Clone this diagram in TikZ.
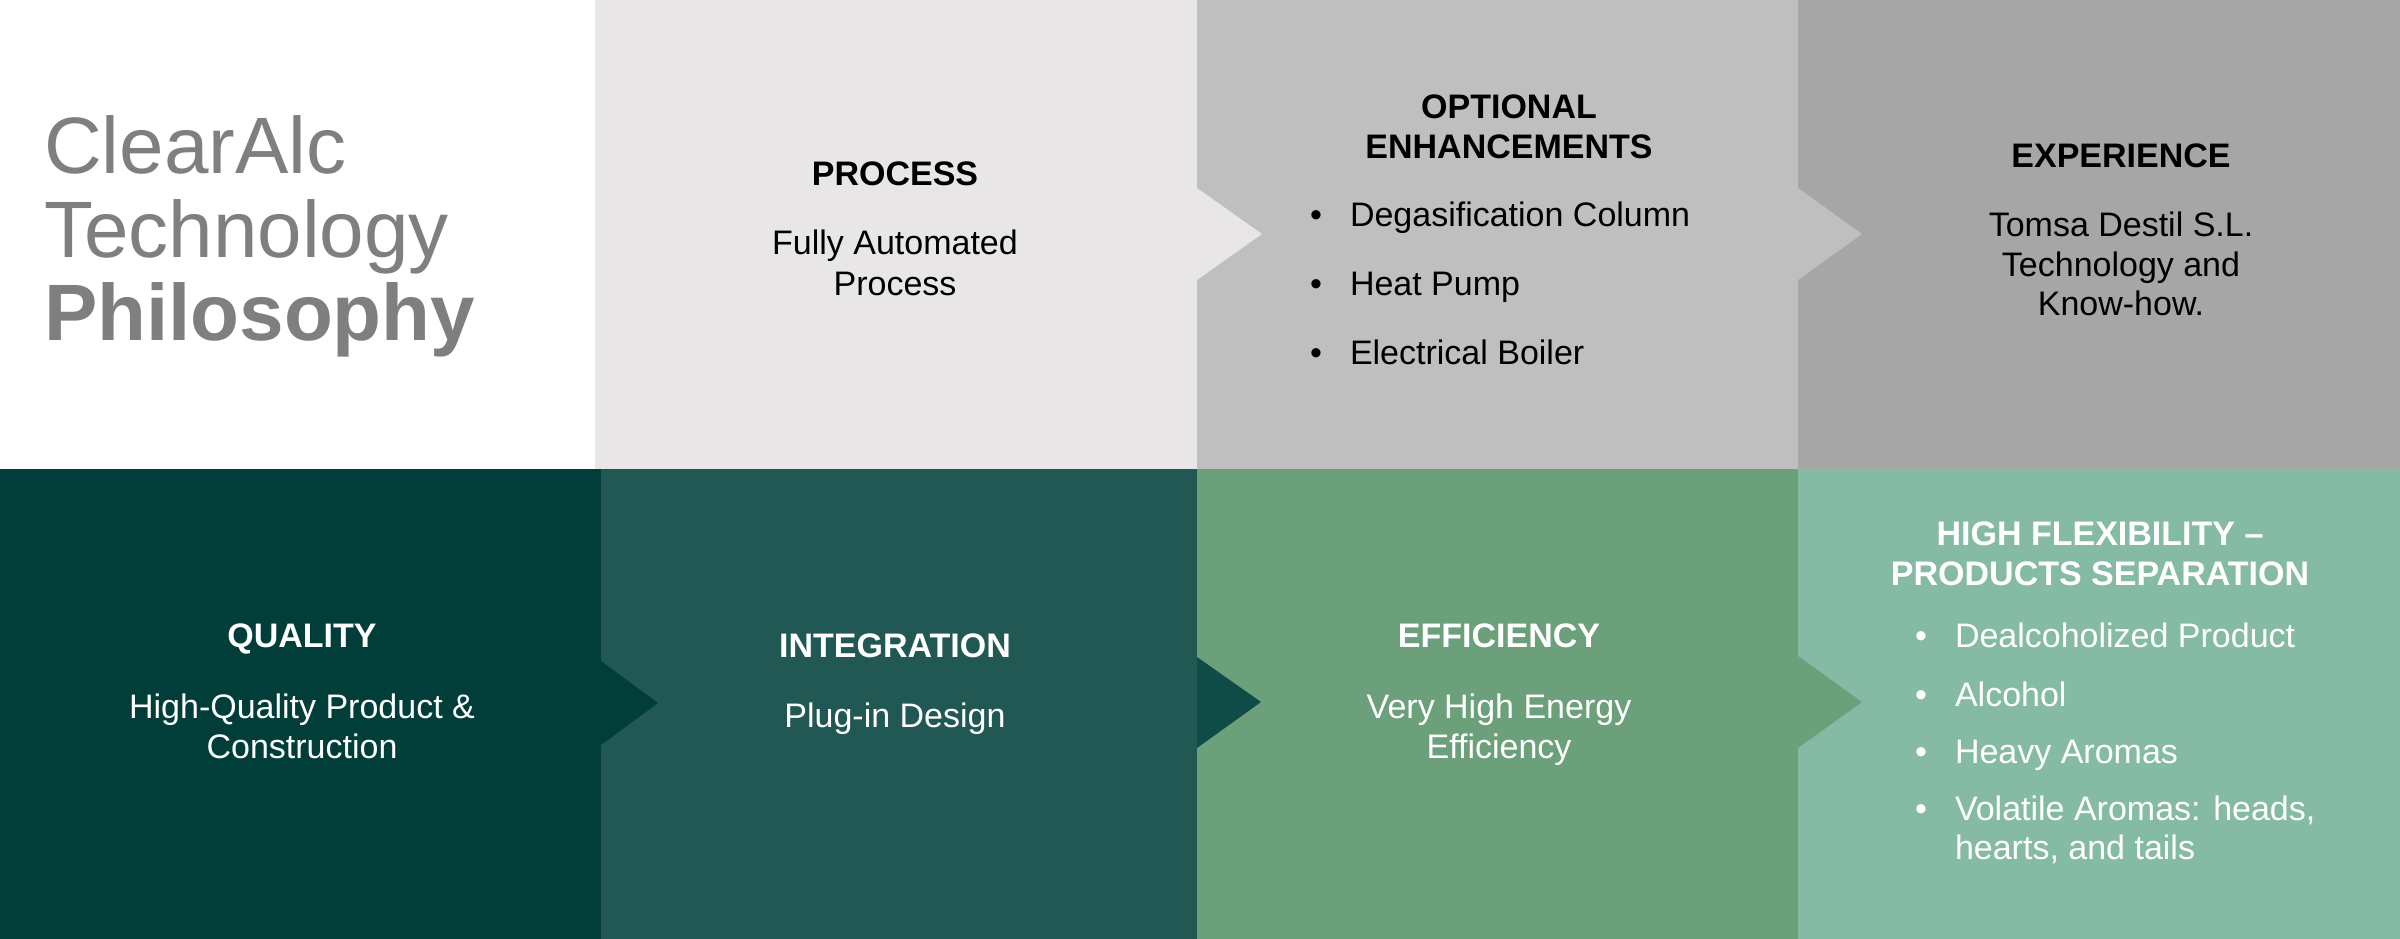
\documentclass[tikz,border=0pt]{standalone}
\usepackage{fontspec}
\setmainfont{Liberation Sans}
\definecolor{cLight}{HTML}{E8E6E7}
\definecolor{cMid}{HTML}{BFBFBF}
\definecolor{cDark}{HTML}{A6A6A6}
\definecolor{cTitle}{HTML}{7F7F7F}
\definecolor{cQual}{HTML}{013E3A}
\definecolor{cInteg}{HTML}{225853}
\definecolor{cIntArrow}{HTML}{0F4B47}
\definecolor{cEff}{HTML}{6CA07B}
\definecolor{cFlex}{HTML}{85BBA5}
\begin{document}
\begin{tikzpicture}[x=1pt,y=-1pt,
  txt/.style={inner sep=0pt, outer sep=0pt, anchor=base, font=\fontsize{34}{40}\selectfont},
  head/.style={txt, font=\fontsize{34}{40}\selectfont\bfseries},
  item/.style={txt, anchor=base west},
  title/.style={inner sep=0pt, outer sep=0pt, anchor=base west, text=cTitle, font=\fontsize{80}{84}\selectfont}]
\useasboundingbox (0,0) rectangle (2400,939);
% top row
\fill[white] (0,0) rectangle (595,469);
\fill[cLight] (595,0) rectangle (1197,469);
\fill[cMid] (1197,0) rectangle (1798,469);
\fill[cDark] (1798,0) rectangle (2400,469);
\fill[cLight] (1197,188) -- (1262,234) -- (1197,280) -- cycle;
\fill[cMid] (1798,188) -- (1862,234) -- (1798,280) -- cycle;
% bottom row
\fill[cQual] (0,469) rectangle (601,939);
\fill[cInteg] (601,469) rectangle (1197,939);
\fill[cEff] (1197,469) rectangle (1798,939);
\fill[cFlex] (1798,469) rectangle (2400,939);
\fill[cQual] (601,661) -- (658,703) -- (601,745) -- cycle;
\fill[cIntArrow] (1197,657) -- (1261,702) -- (1197,748) -- cycle;
\fill[cEff] (1798,656) -- (1862,702) -- (1798,748) -- cycle;
% title
\node[title] (t1) at (44,173) {ClearAlc};
\node[title] (t2) at (44,257) {Technology};
\node[title, font=\fontsize{80}{84}\selectfont\bfseries] (t3) at (44,340) {Philosophy};
% process
\node[head] (ph) at (895,185) {PROCESS};
\node[txt] (pb1) at (895,254) {Fully Automated};
\node[txt] (pb2) at (895,295) {Process};
% optional
\node[head] (oh1) at (1509,118) {OPTIONAL};
\node[head] (oh2) at (1509,158) {ENHANCEMENTS};
\node[txt] (od1) at (1316,226) {•};
\node[item] (oi1) at (1350,226) {Degasification Column};
\node[txt] (od2) at (1316,295) {•};
\node[item] (oi2) at (1350,295) {Heat Pump};
\node[txt] (od3) at (1316,364) {•};
\node[item] (oi3) at (1350,364) {Electrical Boiler};
% experience
\node[head] (eh) at (2121,167) {EXPERIENCE};
\node[txt] (eb1) at (2121,236) {Tomsa Destil S.L.};
\node[txt] (eb2) at (2121,276) {Technology and};
\node[txt] (eb3) at (2121,315) {Know-how.};
% quality
\begin{scope}[every node/.append style={text=white}]
\node[head] (qh) at (302,647) {QUALITY};
\node[txt] (qb1) at (302,718) {High-Quality Product \&};
\node[txt] (qb2) at (302,758) {Construction};
% integration
\node[head] (ih) at (895,657) {INTEGRATION};
\node[txt] (ib1) at (895,727) {Plug-in Design};
% efficiency
\node[head] (fh) at (1499,647) {EFFICIENCY};
\node[txt] (fb1) at (1499,718) {Very High Energy};
\node[txt] (fb2) at (1499,758) {Efficiency};
% flexibility
\node[head] (xh1) at (2100,545) {HIGH FLEXIBILITY –};
\node[head] (xh2) at (2100,585) {PRODUCTS SEPARATION};
\node[txt] (xd1) at (1921,647) {•};
\node[item] (xi1) at (1955,647) {Dealcoholized Product};
\node[txt] (xd2) at (1921,706) {•};
\node[item] (xi2) at (1955,706) {Alcohol};
\node[txt] (xd3) at (1921,763) {•};
\node[item] (xi3) at (1955,763) {Heavy Aromas};
\node[txt] (xd4) at (1921,820) {•};
\node[item] (xi4) at (1955,820) {Volatile Aromas: heads,};
\node[item] (xi5) at (1955,859) {hearts, and tails};
\end{scope}
\end{tikzpicture}
\end{document}
